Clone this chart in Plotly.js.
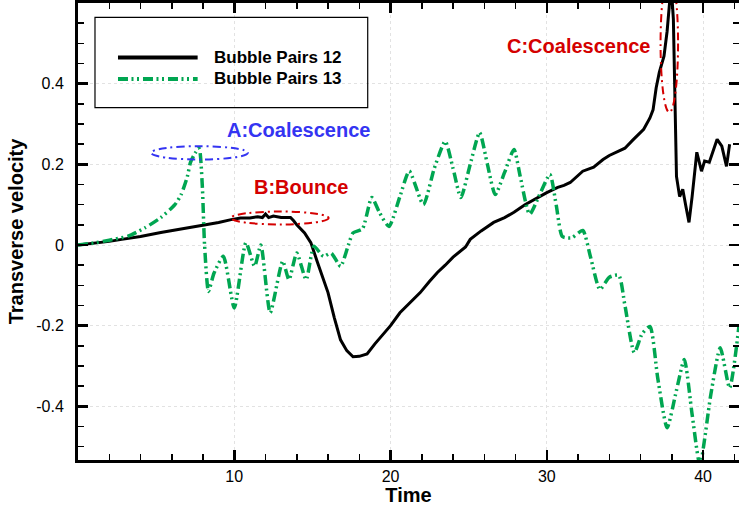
<!DOCTYPE html>
<html>
<head>
<meta charset="utf-8">
<script src="https://cdn.plot.ly/plotly-3.0.1.min.js"></script>
<style>
  html, body { margin: 0; padding: 0; background: #fff; }
  #chart { width: 739px; height: 506px; }
</style>
</head>
<body>
<div id="chart"></div>
<script>
// Bubble pair 12: transverse velocity over time
const timePairs12 = [0, 1, 2, 2.8, 4, 5.3, 6.5, 7.9, 9, 9.8, 10.4, 11, 11.5, 11.8, 12.0, 12.2, 12.5, 13.0, 13.6, 13.8, 14.0, 14.5, 14.9, 15.3, 15.7, 16.0, 16.4, 16.8, 17.2, 17.6, 18.0, 18.5, 19.0, 19.6, 20.0, 20.6, 21.2, 21.9, 22.5, 23.0, 23.5, 24.0, 24.8, 25.1, 25.8, 26.6, 27.3, 27.9, 28.6, 29.4, 30.0, 30.7, 31.1, 31.5, 32.0, 32.3, 33.0, 33.6, 34.0, 34.5, 35.0, 35.5, 36.2, 36.6, 36.8, 37.0, 37.2, 37.5, 37.7, 37.9, 38.0, 38.1, 38.2, 38.3, 38.5, 38.7, 38.9, 39.1, 39.3, 39.6, 39.9, 40.1, 40.4, 40.7, 40.9, 41.2, 41.5, 41.7];
const velPairs12 = [0, 0.004, 0.009, 0.014, 0.021, 0.031, 0.039, 0.047, 0.056, 0.063, 0.067, 0.067, 0.07, 0.068, 0.077, 0.068, 0.072, 0.068, 0.068, 0.06, 0.05, 0.03, 0.006, -0.04, -0.085, -0.118, -0.18, -0.235, -0.262, -0.277, -0.276, -0.27, -0.245, -0.218, -0.2, -0.168, -0.145, -0.118, -0.09, -0.068, -0.05, -0.03, -0.005, 0.014, 0.035, 0.056, 0.068, 0.081, 0.1, 0.118, 0.13, 0.143, 0.148, 0.155, 0.172, 0.183, 0.193, 0.212, 0.222, 0.23, 0.24, 0.26, 0.287, 0.315, 0.335, 0.39, 0.428, 0.468, 0.53, 0.62, 0.62, 0.56, 0.36, 0.17, 0.12, 0.138, 0.096, 0.056, 0.12, 0.23, 0.183, 0.208, 0.205, 0.24, 0.262, 0.245, 0.195, 0.25];

// Bubble pair 13: transverse velocity over time
const timePairs13 = [0, 1, 2, 3.2, 4.3, 5.3, 6.2, 6.6, 7.0, 7.2, 7.5, 7.75, 7.95, 8.1, 8.35, 8.7, 9.3, 10.0, 10.75, 11.3, 11.7, 12.3, 13.1, 13.5, 14.0, 14.6, 15.1, 15.7, 16.2, 16.8, 17.3, 17.6, 18.2, 18.8, 19.3, 19.9, 20.6, 21.2, 22.1, 22.8, 23.5, 24.0, 24.5, 25.1, 25.7, 26.2, 26.7, 27.3, 27.9, 28.3, 28.9, 29.6, 30.2, 30.6, 31.0, 31.6, 32.3, 32.8, 33.4, 34.0, 34.6, 35.0, 35.6, 36.1, 36.6, 37.1, 37.7, 38.3, 38.8, 39.3, 39.8, 40.5, 41.1, 41.7, 42.3];
const velPairs13 = [0, 0.005, 0.012, 0.022, 0.043, 0.068, 0.1, 0.125, 0.17, 0.205, 0.228, 0.24, 0.15, 0.0, -0.115, -0.07, -0.028, -0.156, 0.006, -0.053, 0.0, -0.168, -0.04, -0.086, -0.02, -0.086, -0.003, -0.028, -0.02, -0.053, 0.0, 0.03, 0.04, 0.118, 0.08, 0.046, 0.12, 0.183, 0.1, 0.19, 0.257, 0.19, 0.118, 0.2, 0.279, 0.2, 0.125, 0.18, 0.237, 0.17, 0.076, 0.13, 0.175, 0.1, 0.021, 0.018, 0.036, -0.03, -0.11, -0.08, -0.075, -0.15, -0.267, -0.22, -0.202, -0.33, -0.453, -0.36, -0.284, -0.42, -0.545, -0.37, -0.255, -0.354, -0.2];

const seriesNames = ['Bubble Pairs 12', 'Bubble Pairs 13'];
const seriesColors = ['#000000', '#00a651'];

// Highlighted events: label, ellipse extent (time, velocity), colour
const eventLabels = ['A:Coalescence', 'B:Bounce', 'C:Coalescence'];
const eventLabelTime = [14.1, 14.3, 32.0];
const eventLabelVel = [0.284, 0.145, 0.493];
const eventTimeSpan = [[4.68, 10.87], [9.79, 16.04], [37.28, 38.4]];
const eventVelSpan = [[0.212, 0.245], [0.051, 0.083], [0.329, 0.67]];
const eventColors = ['#3434f2', '#d40000', '#d40000'];

const xTicks = [10, 20, 30, 40];
const yTicks = [-0.4, -0.2, 0, 0.2, 0.4];

const FONT = 'Liberation Sans, Arial, Helvetica, sans-serif';
const greenDash = '10px,3.5px,2px,3.5px,2px,4px';

const traces = [
  {
    x: timePairs12, y: velPairs12, name: seriesNames[0],
    type: 'scatter', mode: 'lines',
    line: { color: seriesColors[0], width: 3 }
  },
  {
    x: timePairs13, y: velPairs13, name: seriesNames[1],
    type: 'scatter', mode: 'lines',
    line: { color: seriesColors[1], width: 3.5, dash: greenDash, shape: 'spline', smoothing: 0.6 }
  }
];

const shapes = [];
const annotations = [];

// dash-dot ellipses around each event
eventLabels.forEach((lab, i) => {
  shapes.push({
    type: 'circle', xref: 'x', yref: 'y',
    x0: eventTimeSpan[i][0], x1: eventTimeSpan[i][1],
    y0: eventVelSpan[i][0], y1: eventVelSpan[i][1],
    line: { color: eventColors[i], width: 2, dash: '8px,4px,2px,4px' }
  });
  annotations.push({
    x: eventLabelTime[i], y: eventLabelVel[i], xref: 'x', yref: 'y',
    text: '<b>' + lab + '</b>', showarrow: false,
    font: { family: FONT, size: 20, color: eventColors[i] }
  });
});

// legend box with long line samples
shapes.push({
  type: 'rect', xref: 'paper', yref: 'paper',
  x0: 0.0257, x1: 0.4383, y0: 0.7712, y1: 0.9686,
  line: { color: '#000', width: 1.2 }, fillcolor: 'rgba(0,0,0,0)'
});
const legendRowY = [0.8810, 0.8337];
const legendLineStyles = [
  { color: seriesColors[0], width: 4 },
  { color: seriesColors[1], width: 4, dash: greenDash }
];
seriesNames.forEach((nm, i) => {
  shapes.push({
    type: 'line', xref: 'paper', yref: 'paper',
    x0: 0.0605, x1: 0.1810, y0: legendRowY[i], y1: legendRowY[i],
    line: legendLineStyles[i]
  });
  annotations.push({
    x: 0.2025, y: legendRowY[i], xref: 'paper', yref: 'paper',
    xanchor: 'left', yanchor: 'middle', showarrow: false,
    text: '<b>' + nm + '</b>',
    font: { family: FONT, size: 17, color: '#000' }
  });
});

const axisCommon = {
  showline: true, linecolor: '#000', linewidth: 3, mirror: 'ticks',
  ticks: 'inside', ticklen: 10, tickwidth: 2.5, tickcolor: '#000',
  showgrid: true, gridcolor: '#e2e2e2', gridwidth: 1, griddash: 'dot',
  zeroline: false,
  tickfont: { family: FONT, size: 16, color: '#000' }
};

const layout = {
  width: 739, height: 506,
  margin: { l: 78, r: 0, t: 3, b: 46 },
  paper_bgcolor: '#fff', plot_bgcolor: '#fff',
  showlegend: false,
  font: { family: FONT, color: '#000' },
  xaxis: Object.assign({}, axisCommon, {
    range: [0, 42.3],
    tickmode: 'array', tickvals: xTicks, ticktext: xTicks.map(String),
    minor: { dtick: 2, tick0: 0, ticks: 'inside', ticklen: 6, tickwidth: 1.5, tickcolor: '#000', showgrid: false },
    title: { text: '<b>Time</b>', font: { family: FONT, size: 20, color: '#000' }, standoff: 4 }
  }),
  yaxis: Object.assign({}, axisCommon, {
    range: [-0.533, 0.6],
    tickmode: 'array', tickvals: yTicks, ticktext: yTicks.map(v => String(v)),
    minor: { dtick: 0.05, tick0: 0, ticks: 'inside', ticklen: 6, tickwidth: 1.5, tickcolor: '#000', showgrid: false },
    ticklabelstandoff: 8,
    title: { text: '<b>Transverse velocity</b>', font: { family: FONT, size: 20, color: '#000' }, standoff: 8 }
  }),
  shapes: shapes,
  annotations: annotations
};

Plotly.newPlot('chart', traces, layout, { displayModeBar: false, staticPlot: true });
</script>
</body>
</html>
